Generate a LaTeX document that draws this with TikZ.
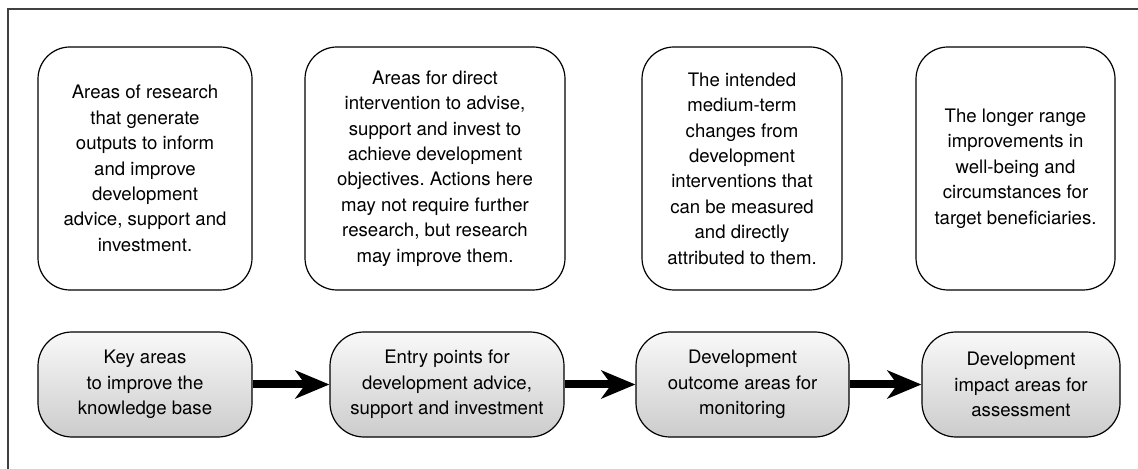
\documentclass[tikz,border=0pt]{standalone}
\usepackage{fontspec}
\setmainfont{TeX Gyre Heros}
\usetikzlibrary{arrows.meta}
\frenchspacing

\begin{document}
\begin{tikzpicture}[
            x = 0.5pt, y = -0.5pt, % one unit per pixel of the layout
            > = {Stealth[length=17pt, width=14pt, inset=5pt]}, % arrow head style
            font = \fontsize{9.3}{12.7}\selectfont,
            align = center
        ]

        \tikzstyle{aim}=[
            draw = black,
            line width = 0.6pt,
            rounded corners = 16pt,
            minimum height = 121.5pt,
            inner sep = 0pt
        ]
        \tikzstyle{area}=[
            draw = black,
            line width = 0.6pt,
            rounded corners = 17pt,
            minimum height = 52.5pt,
            top color = gray!5,
            bottom color = gray!40,
            inner sep = 0pt
        ]
        \tikzstyle{link}=[->, line width = 4pt]

        \useasboundingbox (0,0) rectangle (1138,469);
        \draw[line width = 0.7pt, black!75] (8,9) rectangle (1160,490); % frame

        % upper row: what each area means
        \node[aim, minimum width = 107pt] (t1) at (145,168.5)
            {Areas of research\\that generate\\outputs to inform\\and improve\\development\\advice, support and\\investment.};
        \node[aim, minimum width = 130pt] (t2) at (435,168.5)
            {Areas for direct\\intervention to advise,\\support and invest to\\achieve development\\objectives. Actions here\\may not require further\\research, but research\\may improve them.};
        \node[aim, minimum width = 100pt] (t3) at (742,168.5)
            {The intended\\medium-term\\changes from\\development\\interventions that\\can be measured\\and directly\\attributed to them.};
        \node[aim, minimum width = 99.5pt] (t4) at (1015.5,168.5)
            {The longer range\\improvements in\\well-being and\\circumstances for\\target beneficiaries.};

        % lower row: the chain
        \node[area, minimum width = 107pt] (b1) at (145,384.5)
            {Key areas\\to improve the\\knowledge base};
        \node[area, minimum width = 117pt] (b2) at (447,384.5)
            {Entry points for\\development advice,\\support and investment};
        \node[area, minimum width = 106.5pt] (b3) at (742.5,384.5)
            {Development\\outcome areas for\\monitoring};
        \node[area, minimum width = 99pt] (b4) at (1021,384.5)
            {Development\\impact areas for\\assessment};

        \draw[link] (b1) -- (b2);
        \draw[link] (b2) -- (b3);
        \draw[link] (b3) -- (b4);

    \end{tikzpicture}
\end{document}
